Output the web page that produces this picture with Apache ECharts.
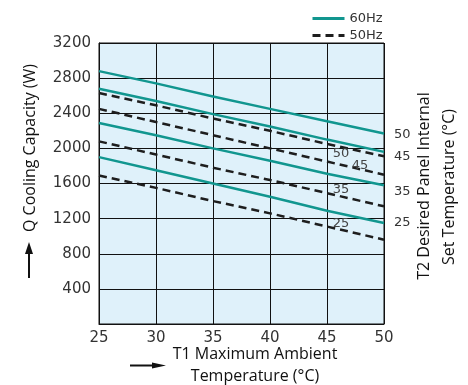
<!DOCTYPE html>
<html>
<head>
<meta charset="utf-8">
<script src="https://cdn.jsdelivr.net/npm/echarts@6/dist/echarts.min.js"></script>
<style>html,body{margin:0;padding:0;background:#fff}#c{width:468px;height:385px}</style>
</head>
<body>
<div id="c"></div>
<script>
var xValues = [25, 30, 35, 40, 45, 50];
var yTicks = [0, 400, 800, 1200, 1600, 2000, 2400, 2800, 3200];
var t2Labels = ['50', '45', '35', '25'];
// 60 Hz (solid teal) capacity, W, per T2 curve
var hz60_T50 = [2880, 2740, 2590, 2450, 2310, 2170];
var hz60_T45 = [2680, 2540, 2390, 2250, 2100, 1960];
var hz60_T35 = [2290, 2150, 2000, 1860, 1710, 1580];
var hz60_T25 = [1900, 1750, 1600, 1450, 1290, 1150];
// 50 Hz (dashed black)
var hz50_T50 = [2630, 2490, 2340, 2200, 2050, 1910];
var hz50_T45 = [2450, 2300, 2150, 2000, 1850, 1700];
var hz50_T35 = [2080, 1930, 1780, 1640, 1490, 1340];
var hz50_T25 = [1690, 1550, 1400, 1260, 1110, 960];

var TEAL = '#11968f';
var DARK = '#1e1e1e';
var FONT = 'DejaVu Sans';

function pairs(vals) { return xValues.map(function (x, i) { return [x, vals[i]]; }); }

function solid(vals, lab, dy) {
  return {
    name: '60Hz', type: 'line', data: pairs(vals), symbol: 'none', silent: true,
    lineStyle: { color: TEAL, width: 2.5 }, itemStyle: { color: TEAL },
    endLabel: { show: true, formatter: lab, distance: 10, offset: [0, dy],
      fontFamily: FONT, fontSize: 13, color: '#333' }
  };
}
function dashed(vals, lab, off) {
  var d = pairs(vals).map(function (p) { return { value: p }; });
  d[4].label = { show: true, formatter: lab, position: 'inside', offset: off,
    fontFamily: FONT, fontSize: 13, color: '#444' };
  return {
    name: '50Hz', type: 'line', data: d, symbol: 'circle', symbolSize: 0, showSymbol: true,
    silent: true,
    lineStyle: { color: DARK, width: 2.5, type: [8, 5] }, itemStyle: { color: DARK }
  };
}

var chart = echarts.init(document.getElementById('c'));
chart.setOption({
  animation: false,
  legend: {
    data: ['60Hz', '50Hz'], orient: 'vertical', left: 306, top: 7,
    itemWidth: 32, itemHeight: 14, itemGap: 4,
    itemStyle: { opacity: 0 },
    lineStyle: { width: 3 },
    textStyle: { fontFamily: FONT, fontSize: 13, color: '#333' }
  },
  grid: { left: 99, right: 84, top: 43, bottom: 61, show: true,
    backgroundColor: '#dff1fa', borderColor: '#111', borderWidth: 1 },
  xAxis: {
    type: 'value', min: xValues[0], max: xValues[xValues.length - 1], interval: 5,
    axisLine: { lineStyle: { color: '#111', width: 1 } },
    axisTick: { show: false },
    splitLine: { show: true, lineStyle: { color: '#111', width: 1 } },
    axisLabel: { fontFamily: FONT, fontSize: 15, color: '#333', margin: 7 }
  },
  yAxis: {
    type: 'value', min: yTicks[0], max: yTicks[yTicks.length - 1], interval: 400,
    axisLine: { show: true, lineStyle: { color: '#111', width: 1 } },
    axisTick: { show: false },
    splitLine: { show: true, lineStyle: { color: '#111', width: 1 } },
    axisLabel: { fontFamily: FONT, fontSize: 15, color: '#333', margin: 8,
      formatter: function (v) { return v === 0 ? '' : String(v); } }
  },
  series: [
    solid(hz60_T50, t2Labels[0], 1),
    solid(hz60_T45, t2Labels[1], 5),
    solid(hz60_T35, t2Labels[2], 6),
    solid(hz60_T25, t2Labels[3], 0),
    dashed(hz50_T50, t2Labels[0], [14, 10]),
    dashed(hz50_T45, t2Labels[1], [33, 4]),
    dashed(hz50_T35, t2Labels[2], [14, -4]),
    dashed(hz50_T25, t2Labels[3], [14, -3])
  ],
  graphic: [
    { type: 'text', x: 30, y: 148, rotation: Math.PI / 2,
      style: { text: 'Q Cooling Capacity (W)', fontFamily: 'Open Sans', fontSize: 16,
        fill: '#111', align: 'center', verticalAlign: 'middle' } },
    { type: 'line', shape: { x1: 29, y1: 278, x2: 29, y2: 250 }, style: { stroke: '#111', lineWidth: 2 } },
    { type: 'polygon', shape: { points: [[29, 242], [25, 254], [33, 254]] }, style: { fill: '#111' } },
    { type: 'text', x: 424, y: 186, rotation: Math.PI / 2,
      style: { text: 'T2 Desired Panel Internal', fontFamily: 'Open Sans', fontSize: 16,
        fill: '#111', align: 'center', verticalAlign: 'middle' } },
    { type: 'text', x: 449, y: 187, rotation: Math.PI / 2,
      style: { text: 'Set Temperature (°C)', fontFamily: 'Open Sans', fontSize: 16,
        fill: '#111', align: 'center', verticalAlign: 'middle' } },
    { type: 'text', x: 255, y: 354,
      style: { text: 'T1 Maximum Ambient', fontFamily: 'Open Sans', fontSize: 16,
        fill: '#111', align: 'center', verticalAlign: 'middle' } },
    { type: 'text', x: 255, y: 376,
      style: { text: 'Temperature (°C)', fontFamily: 'Open Sans', fontSize: 16,
        fill: '#111', align: 'center', verticalAlign: 'middle' } },
    { type: 'line', shape: { x1: 130, y1: 365.5, x2: 156, y2: 365.5 }, style: { stroke: '#111', lineWidth: 2 } },
    { type: 'polygon', shape: { points: [[166, 365.5], [152, 362.5], [152, 368.5]] }, style: { fill: '#111' } }
  ]
});
</script>
</body>
</html>
